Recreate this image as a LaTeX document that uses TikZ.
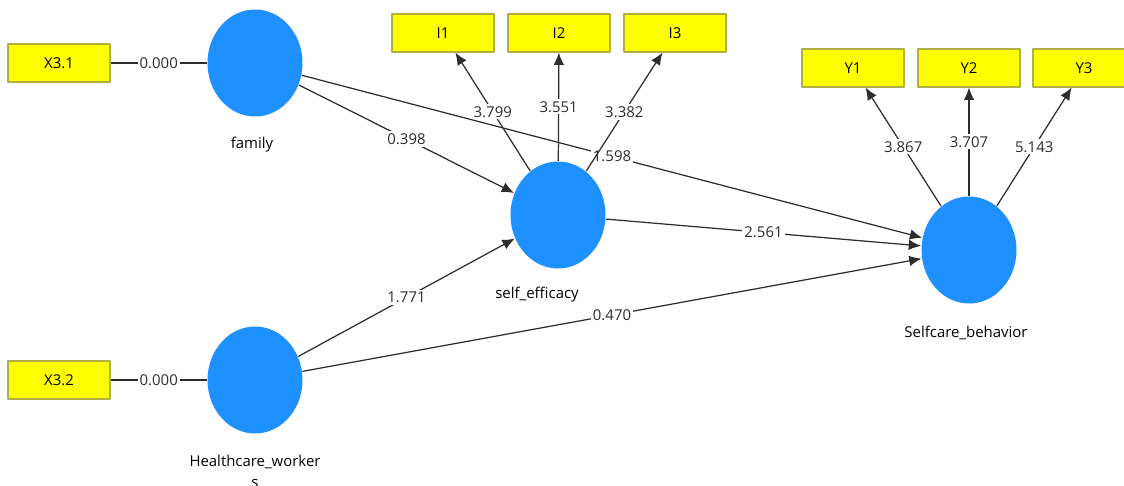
\documentclass[tikz,border=0pt]{standalone}
\usepackage{fontspec}
\setmainfont{Open Sans}
\usetikzlibrary{shapes.geometric,arrows.meta}
\definecolor{latentblue}{RGB}{30,144,255}
\definecolor{itemyellow}{RGB}{255,255,0}
\definecolor{itemborder}{RGB}{175,175,70}
\definecolor{pathgray}{RGB}{45,45,45}
\tikzset{
  latent/.style={ellipse,fill=latentblue,minimum width=1.9cm,minimum height=2.14cm,inner sep=0pt},
  item/.style={rectangle,fill=itemyellow,draw=itemborder,minimum width=2.04cm,minimum height=0.76cm,inner sep=0pt,font=\fontsize{8.5}{10}\selectfont},
  coef/.style={fill=white,inner sep=1.2pt,font=\fontsize{8.5}{10}\selectfont},
  caption/.style={font=\fontsize{8.5}{12}\selectfont,align=center},
}
\begin{document}
\begin{tikzpicture}[x=0.02cm,y=-0.02cm,>={Latex[length=7pt,width=6pt]},line join=bevel,line width=0.7pt]
\clip (0,0) rectangle (1124,486);
\fill [white] (0,0) rectangle (1124,486);

 % latent variables
 \node (node_fam) at (255,63) [latent] {};
 \node (node_hcw) at (255,380) [latent] {};
 \node (node_se) at (558,215) [latent] {};
 \node (node_scb) at (969,250) [latent] {};

 \node (cap_fam) at (252,145) [caption] {family};
 \node (cap_hcw) at (255,471) [caption] {Healthcare\_worker\\s};
 \node (cap_se) at (537,295) [caption] {self\_efficacy};
 \node (cap_scb) at (966,333) [caption] {Selfcare\_behavior};

 % indicators
 \node (node_x31) at (59,63) [item] {X3.1};
 \node (node_x32) at (59,380) [item] {X3.2};
 \node (node_i1) at (443,33) [item] {I1};
 \node (node_i2) at (559,33) [item] {I2};
 \node (node_i3) at (675,33) [item] {I3};
 \node (node_y1) at (853,68) [item] {Y1};
 \node (node_y2) at (969,68) [item] {Y2};
 \node (node_y3) at (1084,68) [item] {Y3};

  \draw [pathgray] (node_x31) edge node[coef] {0.000} (node_fam);
  \draw [pathgray] (node_x32) edge node[coef] {0.000} (node_hcw);
  \draw [pathgray,->] (node_se) edge node[coef] {3.799} (node_i1);
  \draw [pathgray,->] (node_se) edge node[coef] {3.551} (node_i2);
  \draw [pathgray,->] (node_fam) edge node[coef] {1.598} (node_scb);
  \draw [pathgray,->] (node_se) edge node[coef] {3.382} (node_i3);
  \draw [pathgray,->] (node_fam) edge node[coef] {0.398} (node_se);
  \draw [pathgray,->] (node_hcw) edge node[coef] {1.771} (node_se);
  \draw [pathgray,->] (node_se) edge node[coef] {2.561} (node_scb);
  \draw [pathgray,->] (node_hcw) edge node[coef] {0.470} (node_scb);
  \draw [pathgray,->] (node_scb) edge node[coef] {3.867} (node_y1);
  \draw [pathgray,->] (node_scb) edge node[coef] {3.707} (node_y2);
  \draw [pathgray,->] (node_scb) edge node[coef] {5.143} (node_y3);

\end{tikzpicture}
\end{document}
